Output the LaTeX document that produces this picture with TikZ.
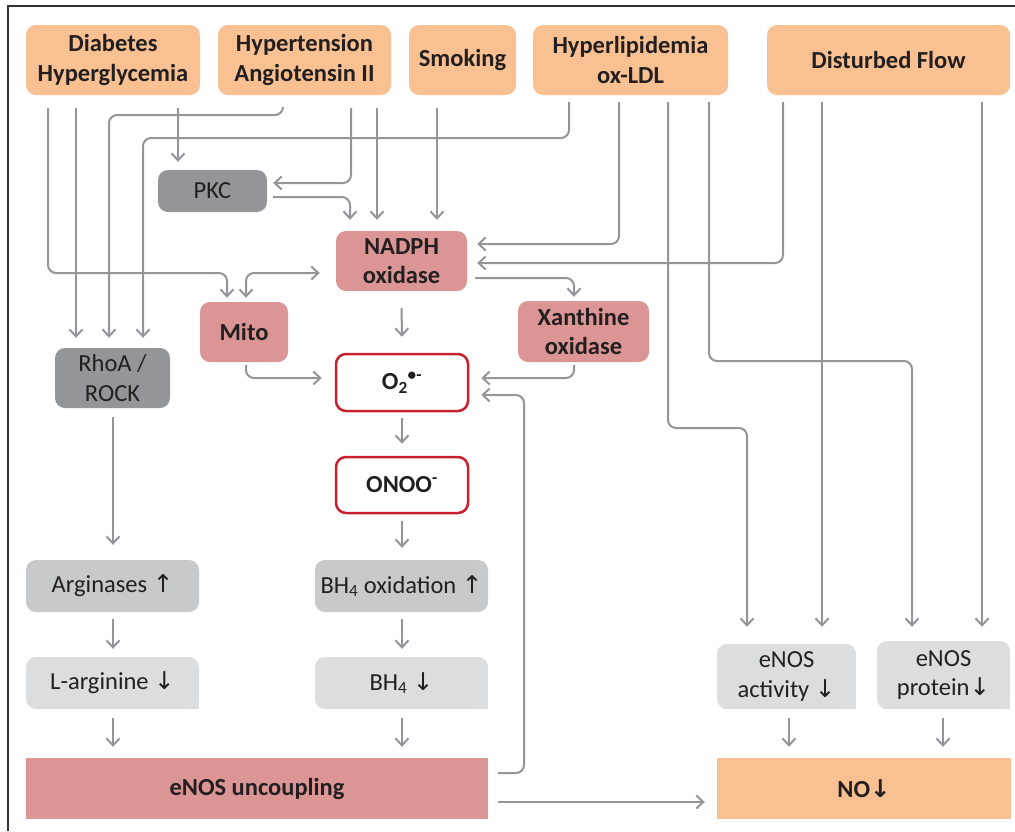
\documentclass[tikz,border=0pt]{standalone}
\usepackage{fontspec}
\setmainfont{Carlito}
\newfontfamily\arrowfont{DejaVu Sans}
\usetikzlibrary{arrows.meta}
\definecolor{lc}{RGB}{147,149,152}
\definecolor{orng}{RGB}{249,193,145}
\definecolor{pinkf}{RGB}{219,149,149}
\definecolor{dgray}{RGB}{147,149,152}
\definecolor{mgray}{RGB}{200,201,203}
\definecolor{lgray}{RGB}{220,221,222}
\definecolor{redb}{RGB}{200,32,46}
\definecolor{txt}{RGB}{35,31,32}
\definecolor{framec}{RGB}{50,50,52}
\newcommand{\fsz}{\fontsize{24.5}{29.5}\selectfont}
\newcommand{\myup}{{\arrowfont\char"2191}}
\newcommand{\mydown}{{\arrowfont\char"2193}}
\tikzset{
  box/.style={rounded corners=10pt, inner sep=0pt, align=center, text=txt, font=\fsz},
  orangebox/.style={box, fill=orng, font=\fsz\bfseries},
  pinkbox/.style={box, fill=pinkf, font=\fsz\bfseries},
  darkbox/.style={box, fill=dgray},
  midbox/.style={box, fill=mgray},
  lightbox/.style={box, fill=lgray},
  redbox/.style={box, fill=white, draw=redb, line width=2.5pt, font=\fsz\bfseries},
  arr/.style={draw=lc, line width=2pt, rounded corners=8pt, -{Straight Barb[length=7pt,width=13pt]}},
  frameline/.style={draw=framec, line width=1.5pt}
}
\begin{document}
\begin{tikzpicture}[x=1pt,y=-1pt]
\useasboundingbox (0,0) rectangle (1015,831);
\draw[frameline] (8,831) -- (8,6) -- (1015,6);

% top risk factors
\node[orangebox, minimum width=174pt, minimum height=70pt] (diab) at (113,60) {Diabetes\\Hyperglycemia};
\node[orangebox, minimum width=173pt, minimum height=70pt] (hyper) at (304.5,60) {Hypertension\\Angiotensin II};
\node[orangebox, minimum width=107pt, minimum height=70pt] (smok) at (462.5,60) {Smoking};
\node[orangebox, minimum width=195pt, minimum height=70pt] (lipid) at (630.5,60) {Hyperlipidemia\\ox-LDL};
\node[orangebox, minimum width=243pt, minimum height=70pt] (flow) at (888.5,60) {Disturbed Flow};

% middle
\node[darkbox, minimum width=109pt, minimum height=42pt] (pkc) at (212.5,191) {PKC};
\node[pinkbox, minimum width=131pt, minimum height=60pt] (nadph) at (401.5,261) {NADPH\\oxidase};
\node[pinkbox, minimum width=88pt, minimum height=60pt] (mito) at (244,332) {Mito};
\node[pinkbox, minimum width=131pt, minimum height=61pt] (xan) at (583.5,331.5) {Xanthine\\oxidase};
\node[darkbox, minimum width=115pt, minimum height=60pt] (rho) at (112.5,378) {RhoA /\\ROCK};
\node[redbox, minimum width=132pt, minimum height=57pt] (o2) at (402,382.5) {O\textsubscript{2}\textsuperscript{\textbullet-}};
\node[redbox, minimum width=132pt, minimum height=56pt] (onoo) at (402,485) {ONOO\textsuperscript{-}};

% lower
\node[midbox, minimum width=173pt, minimum height=52pt] (arg) at (112.5,586) {Arginases \myup};
\node[midbox, minimum width=173pt, minimum height=52pt] (bhox) at (401.5,586) {BH\textsubscript{4} oxidation \myup};
\node[lightbox, minimum width=173pt, minimum height=52pt] (larg) at (112.5,683) {L-arginine \mydown};
\fill[lgray] (larg.south east) rectangle ++(-12,-12);
\node[lightbox, minimum width=173pt, minimum height=52pt] (bh4) at (401.5,683) {BH\textsubscript{4} \mydown};
\fill[lgray] (bh4.south east) rectangle ++(-12,-12);
\node[lightbox, minimum width=139pt, minimum height=65pt] (act) at (786.5,676.5) {eNOS\\activity \mydown};
\fill[lgray] (act.south east) rectangle ++(-12,-12);
\node[lightbox, minimum width=133pt, minimum height=68pt] (prot) at (943.5,675) {eNOS\\protein\mydown};
\fill[lgray] (prot.south east) rectangle ++(-12,-12);
\node[box, fill=pinkf, rounded corners=0pt, font=\fsz\bfseries, minimum width=462pt, minimum height=61pt] (unc) at (257,788.5) {eNOS uncoupling};
\node[box, fill=orng, rounded corners=0pt, font=\fsz\bfseries, minimum width=294pt, minimum height=61pt] (no) at (864,788.5) {NO{\arrowfont\bfseries\char"2193}};

% connectors from top
\draw[arr, shorten <=13pt, shorten >=4pt] (48,0 |- diab.south) |- (227,273) -- (227,0 |- mito.north);
\draw[arr, shorten <=13pt, shorten >=10pt] (76,0 |- diab.south) -- (76,0 |- rho.north);
\draw[arr, shorten <=13pt, shorten >=10pt] (283,0 |- hyper.south) -- (283,115) -| (109,0 |- rho.north);
\draw[arr, shorten <=7pt, shorten >=10pt] (569,0 |- lipid.south) -- (569,138) -| (143,0 |- rho.north);
\draw[arr, shorten <=13pt, shorten >=8pt] (178,0 |- diab.south) -- (178,0 |- pkc.north);
\draw[arr, shorten <=13pt, shorten >=6pt] (351,0 |- hyper.south) |- (pkc.east |- 0,183);
\draw[arr, shorten <=13pt, shorten >=11pt] (377,0 |- hyper.south) -- (377,0 |- nadph.north);
\draw[arr, shorten <=6pt, shorten >=11pt] (pkc.east |- 0,197) -| (350,0 |- nadph.north);
\draw[arr, shorten <=13pt, shorten >=11pt] (437,0 |- smok.south) -- (437,0 |- nadph.north);
\draw[arr, shorten <=7pt, shorten >=10pt] (619,0 |- lipid.south) |- (nadph.east |- 0,244);
\draw[arr, shorten <=7pt, shorten >=10pt] (783,0 |- flow.south) |- (nadph.east |- 0,263);
\draw[arr, shorten <=8pt, shorten >=4pt] (nadph.east |- 0,278) -| (574,0 |- xan.north);
\draw[arr, {Straight Barb[length=7pt,width=13pt]}-{Straight Barb[length=7pt,width=13pt]}, shorten <=4pt, shorten >=16pt] (246,0 |- mito.north) |- (nadph.west |- 0,273);
\draw[arr, shorten <=7pt, shorten >=17pt] (668,0 |- lipid.south) |- (747,428) -- (747,0 |- act.north);
\draw[arr, shorten <=7pt, shorten >=14pt] (709,0 |- lipid.south) |- (912,361) -- (912,0 |- prot.north);
\draw[arr, shorten <=7pt, shorten >=17pt] (822,0 |- flow.south) -- (822,0 |- act.north);
\draw[arr, shorten <=7pt, shorten >=14pt] (982,0 |- flow.south) -- (982,0 |- prot.north);

% central chain
\draw[arr, shorten <=17pt, shorten >=16pt] (nadph.south) -- (o2.north);
\draw[arr, shorten <=3pt, shorten >=13pt] (246,0 |- mito.south) |- (o2.west |- 0,378);
\draw[arr, shorten <=3pt, shorten >=12pt] (574,0 |- xan.south) |- (o2.east |- 0,378);
\draw[arr, shorten <=10pt, shorten >=12pt] (unc.east |- 0,773) -| (524,395) -- (o2.east |- 0,395);
\draw[arr, shorten <=6pt, shorten >=12pt] (o2.south) -- (onoo.north);
\draw[arr, shorten <=7pt, shorten >=12pt] (onoo.south) -- (402,0 |- bhox.north);
\draw[arr, shorten <=9pt, shorten >=15pt] (113,0 |- rho.south) -- (113,0 |- arg.north);
\draw[arr, shorten <=7pt, shorten >=8pt] (113,0 |- arg.south) -- (113,0 |- larg.north);
\draw[arr, shorten <=7pt, shorten >=8pt] (402,0 |- bhox.south) -- (402,0 |- bh4.north);
\draw[arr, shorten <=9pt, shorten >=11pt] (113,0 |- larg.south) -- (113,0 |- unc.north);
\draw[arr, shorten <=9pt, shorten >=11pt] (402,0 |- bh4.south) -- (402,0 |- unc.north);
\draw[arr, shorten <=10pt, shorten >=12pt] (unc.east |- 0,802) -- (no.west |- 0,802);
\draw[arr, shorten <=9pt, shorten >=11pt] (789,0 |- act.south) -- (789,0 |- no.north);
\draw[arr, shorten <=9pt, shorten >=11pt] (943,0 |- prot.south) -- (943,0 |- no.north);
\end{tikzpicture}
\end{document}
